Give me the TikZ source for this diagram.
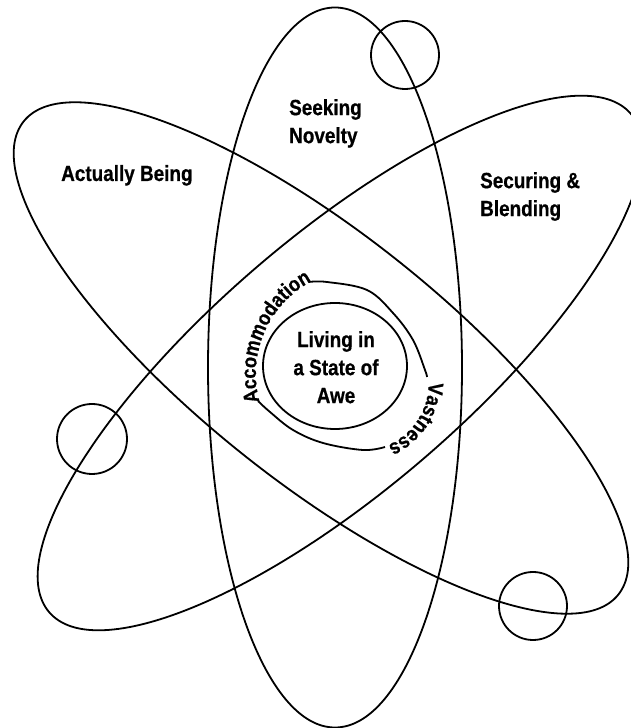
\documentclass[tikz,border=0pt]{standalone}
\usepackage{fontspec}
\setmainfont{Liberation Sans}[FakeStretch=0.86,BoldFeatures={FakeBold=0.6}]
\usetikzlibrary{decorations.text}

\newcommand{\orbitfont}{\bfseries\fontsize{22}{28}\selectfont}
\newcommand{\shellfont}{\bfseries\fontsize{21}{26}\selectfont}

\begin{document}
\begin{tikzpicture}[
  x=1pt,y=1pt,
  orbit/.style={draw=black,line width=1.8pt},
  electron/.style={draw=black,line width=1.8pt},
  orbitname/.style={font=\orbitfont,inner sep=0pt,align=left},
  arcname/.style={decorate,decoration={text along path,text align=center,
    text={|\shellfont|#1}}}
]
  \useasboundingbox (0,0) rectangle (631,728);

  % three orbits
  \begin{scope}
    \clip (0,0) rectangle (631,728);
    \draw[orbit] (335,360.5) ellipse[x radius=127,y radius=360];
    \draw[orbit,rotate around={40.6:(340,365)}] (340,365)
      ellipse[x radius=383,y radius=127];
    \draw[orbit,rotate around={-38.5:(321,370)}] (321,370)
      ellipse[x radius=380,y radius=124];
  \end{scope}

  % electrons
  \draw[electron] (405,673) circle[radius=34];
  \draw[electron] (92,289) circle[radius=35];
  \draw[electron] (533,122) circle[radius=34];

  % nucleus and its shell
  \draw[orbit] (335,362) ellipse[x radius=72,y radius=63];
  \draw[orbit] plot[smooth,tension=0.6] coordinates {(309,446) (327,446)
    (367,438) (393,415) (413,388) (425,358) (427,351)};
  \draw[orbit] plot[smooth,tension=0.6] coordinates {(385,281) (363,278)
    (323,285) (293,298) (270,316) (258,327)};
  \path[arcname=Vastness] (428,354.5)
    arc[start angle=8,end angle=-74,radius=68];
  \path[arcname=Accommodation] (263.9,313.8)
    arc[start angle=202.5,end angle=110.5,radius=105];

  \node[orbitname,anchor=north,align=center] (awe) at (336,397)
    {Living in\\a State of\\Awe};
  \node[orbitname,anchor=base west] (being) at (61,547) {Actually Being};
  \node[orbitname,anchor=north west] (novelty) at (289,629) {Seeking\\Novelty};
  \node[orbitname,anchor=north west] (securing) at (480,556) {Securing \&\\Blending};
\end{tikzpicture}
\end{document}
